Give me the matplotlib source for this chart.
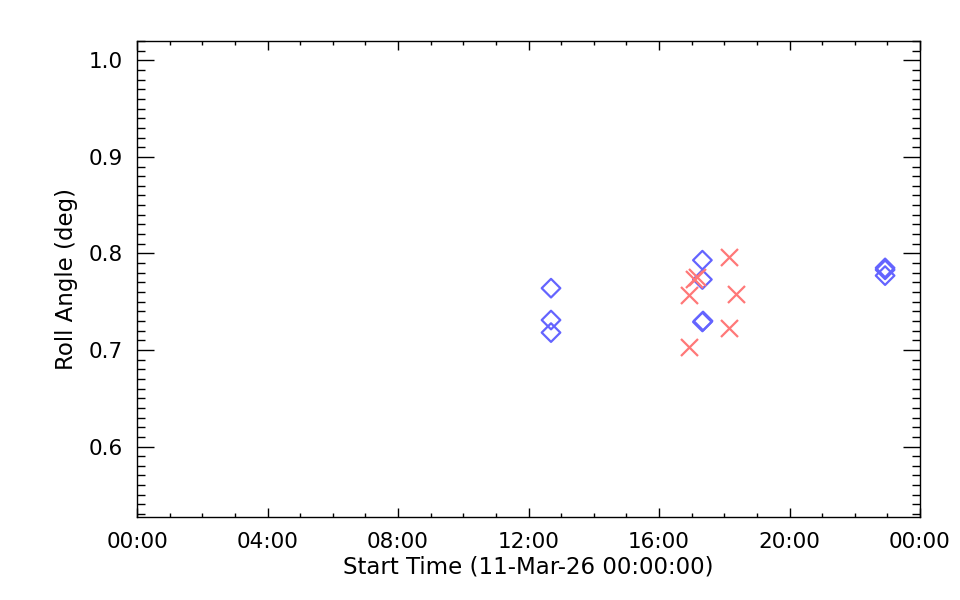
import numpy as np
import matplotlib
matplotlib.use("Agg")
import matplotlib.pyplot as plt
from matplotlib.ticker import MultipleLocator, FuncFormatter

# start times in hours after 11-Mar-26 00:00:00, roll angle in deg
blue_hours = [12.69, 12.69, 12.69, 17.33, 17.33, 17.33, 17.35, 22.93, 22.93, 22.93]
blue_roll = [0.764, 0.731, 0.718, 0.793, 0.773, 0.729, 0.730, 0.785, 0.783, 0.777]

red_hours = [16.92, 16.92, 17.06, 17.17, 18.15, 18.37, 18.15]
red_roll = [0.703, 0.757, 0.773, 0.776, 0.796, 0.758, 0.723]

plt.rcParams['font.family'] = ['DejaVu Sans']

fig = plt.figure(figsize=(9.6, 6.0), dpi=100)
ax = fig.add_axes([137 / 960, 1 - 517 / 600, 783 / 960, 476 / 600])

ax.scatter(blue_hours, blue_roll, marker='D', s=90, facecolors='none',
           edgecolors='#6464ff', linewidths=1.6)
ax.scatter(red_hours, red_roll, marker='x', s=150, color='#ff7878',
           linewidths=1.6)

ax.set_xlim(0, 24)
ax.set_ylim(0.527, 1.02)

ax.xaxis.set_major_locator(MultipleLocator(4))
ax.xaxis.set_minor_locator(MultipleLocator(1))
ax.xaxis.set_major_formatter(FuncFormatter(lambda h, p: f"{int(round(h)) % 24:02d}:00"))
ax.yaxis.set_major_locator(MultipleLocator(0.1))
ax.yaxis.set_minor_locator(MultipleLocator(0.01))
ax.yaxis.set_major_formatter(FuncFormatter(lambda v, p: f"{v:.1f}"))

ax.tick_params(axis='x', which='major', direction='in', length=6.5, width=1,
               top=True, bottom=True, labelsize=15.5, pad=11, labelcolor='black')
ax.tick_params(axis='x', which='minor', direction='in', length=3.2, width=1,
               top=True, bottom=True)
ax.tick_params(axis='y', which='major', direction='in', length=12, width=1,
               left=True, right=True, labelsize=15.5, pad=10, labelcolor='black')
ax.tick_params(axis='y', which='minor', direction='in', length=6, width=1,
               left=True, right=True)

for s in ax.spines.values():
    s.set_linewidth(1)

ax.set_xlabel('Start Time (11-Mar-26 00:00:00)', fontsize=16.5, labelpad=2)
ax.set_ylabel('Roll Angle (deg)', fontsize=16.5, labelpad=8)

fig.savefig('out.png', dpi=100)
